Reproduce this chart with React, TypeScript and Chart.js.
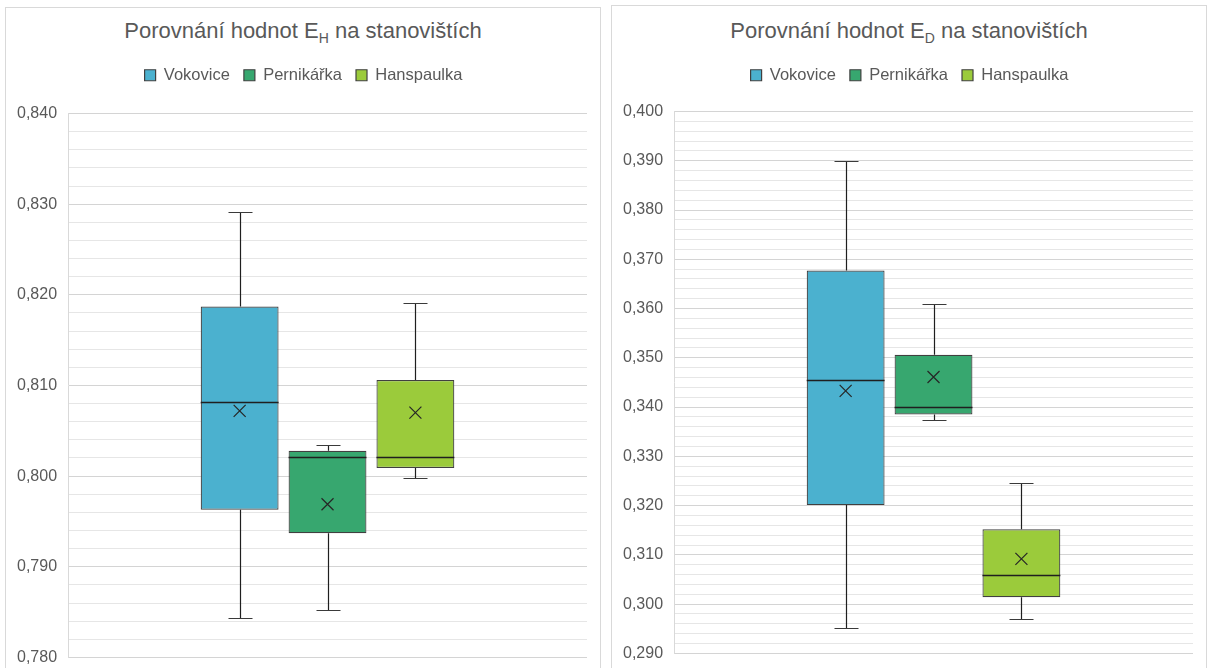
import React, { useEffect, useRef } from 'react';
import { Chart, registerables } from 'chart.js';

Chart.register(...registerables);

const FONT = '"Liberation Sans", Arial, Helvetica, sans-serif';

const categories = [''];
const seriesNames = ['Vokovice', 'Pernikářka', 'Hanspaulka'];
const seriesColors = ['#4BB1CF', '#37A76F', '#9BCB3B'];

// E_H statistics (Vokovice, Pernikářka, Hanspaulka)
const ehMin = [0.7844, 0.7852, 0.7998];
const ehQ1 = [0.7963, 0.7937, 0.8009];
const ehMedian = [0.8082, 0.8021, 0.8021];
const ehQ3 = [0.8187, 0.8028, 0.8106];
const ehMax = [0.8291, 0.8034, 0.8191];
const ehMean = [0.8072, 0.7969, 0.807];
const ehAxis = { min: 0.78, max: 0.84 };

// E_D statistics (Vokovice, Pernikářka, Hanspaulka)
const edMin = [0.2951, 0.3373, 0.2969];
const edQ1 = [0.3201, 0.3385, 0.3014];
const edMedian = [0.3454, 0.34, 0.306];
const edQ3 = [0.3677, 0.3506, 0.3152];
const edMax = [0.3899, 0.361, 0.3246];
const edMean = [0.3433, 0.3461, 0.3092];
const edAxis = { min: 0.29, max: 0.4 };

const minorStep = 0.002;
const majorStep = 0.01;

type Stats = {
  min: number[];
  q1: number[];
  median: number[];
  q3: number[];
  max: number[];
  mean: number[];
};

type Layout = { gap: number; height: number };

const isMajor = (v: number) => Math.abs(v / majorStep - Math.round(v / majorStep)) < 1e-6;

const crisp = (v: number) => Math.round(v) + 0.5;

const boxExtras = {
  id: 'boxExtras',
  afterDatasetsDraw(chart: any) {
    const ctx = chart.ctx;
    const y = chart.scales.y;
    chart.data.datasets.forEach((ds: any, i: number) => {
      const meta = chart.getDatasetMeta(i);
      const s: Stats = ds.stats;
      meta.data.forEach((bar: any, j: number) => {
        const x = crisp(bar.x);
        const w = bar.width;
        const yMin = crisp(y.getPixelForValue(s.min[j]));
        const yQ1 = y.getPixelForValue(s.q1[j]);
        const yMed = crisp(y.getPixelForValue(s.median[j]));
        const yQ3 = y.getPixelForValue(s.q3[j]);
        const yMax = crisp(y.getPixelForValue(s.max[j]));
        const yMean = y.getPixelForValue(s.mean[j]);
        ctx.save();
        ctx.strokeStyle = '#1f1f1f';
        ctx.lineWidth = 1.2;
        ctx.beginPath();
        ctx.moveTo(x, yQ3);
        ctx.lineTo(x, yMax);
        ctx.moveTo(x, yQ1);
        ctx.lineTo(x, yMin);
        ctx.stroke();
        ctx.strokeStyle = '#3a3a3a';
        ctx.beginPath();
        ctx.moveTo(x - 12, yMax);
        ctx.lineTo(x + 12, yMax);
        ctx.moveTo(x - 12, yMin);
        ctx.lineTo(x + 12, yMin);
        ctx.stroke();
        // median
        ctx.strokeStyle = '#1f1f1f';
        ctx.lineWidth = 1.5;
        ctx.beginPath();
        ctx.moveTo(bar.x - w / 2, yMed);
        ctx.lineTo(bar.x + w / 2, yMed);
        ctx.stroke();
        // mean marker
        const r = 6;
        ctx.lineWidth = 1.2;
        ctx.strokeStyle = '#262626';
        ctx.beginPath();
        ctx.moveTo(bar.x - r, yMean - r);
        ctx.lineTo(bar.x + r, yMean + r);
        ctx.moveTo(bar.x + r, yMean - r);
        ctx.lineTo(bar.x - r, yMean + r);
        ctx.stroke();
        ctx.restore();
      });
    });
  },
};

const makeLegendGap = (gap: number) => ({
  id: 'legendGap',
  beforeInit(chart: any) {
    const legend = chart.legend;
    if (!legend) return;
    const fit = legend.fit;
    legend.fit = function () {
      fit.call(this);
      this.height += gap;
    };
  },
});

function BoxChart({ stats, axis, gap }: { stats: Stats; axis: { min: number; max: number }; gap: number }) {
  const ref = useRef<HTMLCanvasElement | null>(null);
  useEffect(() => {
    if (!ref.current) return;
    const datasets = seriesNames.map((name, i) => ({
      label: name,
      data: categories.map(() => [stats.q1[i], stats.q3[i]]),
      backgroundColor: seriesColors[i],
      borderColor: '#404040',
      borderWidth: 1.2,
      borderSkipped: false,
      categoryPercentage: 0.508,
      barPercentage: 0.886,
      stats: {
        min: [stats.min[i]],
        q1: [stats.q1[i]],
        median: [stats.median[i]],
        q3: [stats.q3[i]],
        max: [stats.max[i]],
        mean: [stats.mean[i]],
      },
    }));
    const chart = new Chart(ref.current, {
      type: 'bar',
      data: { labels: categories, datasets: datasets as any },
      options: {
        animation: false,
        responsive: true,
        maintainAspectRatio: false,
        layout: { padding: { top: 8, left: 0, right: 0, bottom: 0 } },
        plugins: {
          legend: {
            position: 'top',
            labels: {
              boxWidth: 11,
              boxHeight: 11,
              padding: 14,
              color: '#595959',
              font: { family: FONT, size: 16.5 },
            },
          },
          tooltip: { enabled: false },
          title: { display: false },
        },
        scales: {
          x: { display: false },
          y: {
            min: axis.min,
            max: axis.max,
            border: { display: true, color: '#d9d9d9', width: 1 },
            grid: {
              drawTicks: false,
              color: (c: any) => (isMajor(c.tick.value) ? '#d4d4d4' : '#e6e6e6'),
              lineWidth: 1,
            },
            ticks: {
              stepSize: minorStep,
              autoSkip: false,
              padding: 11,
              color: '#595959',
              font: { family: FONT, size: 16 },
              callback: (v: any) => (isMajor(Number(v)) ? Number(v).toFixed(3).replace('.', ',') : ''),
            },
          },
          yRight: {
            position: 'right',
            display: true,
            min: axis.min,
            max: axis.max,
            border: { display: false },
            grid: { display: false, drawTicks: false },
            ticks: { display: false },
            afterFit: (scale: any) => {
              scale.width = 14;
            },
          },
        },
      },
      plugins: [boxExtras, makeLegendGap(gap)],
    });
    return () => chart.destroy();
  }, []);
  return <canvas ref={ref} />;
}

function Panel({
  left,
  top,
  width,
  sub,
  stats,
  axis,
  layout,
}: {
  left: number;
  top: number;
  width: number;
  sub: string;
  stats: Stats;
  axis: { min: number; max: number };
  layout: Layout;
}) {
  return (
    <>
      <div
        style={{
          position: 'absolute',
          left,
          top,
          width,
          height: 720,
          border: '1px solid #d9d9d9',
          boxSizing: 'border-box',
          background: '#fff',
        }}
      />
      <div
        style={{
          position: 'absolute',
          left,
          top: 20,
          width,
          textAlign: 'center',
          fontSize: 22,
          lineHeight: '22px',
          color: '#595959',
          fontFamily: FONT,
          whiteSpace: 'nowrap',
        }}
      >
        Porovnání hodnot E
        <span style={{ fontSize: 14, position: 'relative', top: 5 }}>{sub}</span> na stanovištích
      </div>
      <div style={{ position: 'absolute', left: left + 1, top: 45, width: width - 1, height: layout.height }}>
        <BoxChart stats={stats} axis={axis} gap={layout.gap} />
      </div>
    </>
  );
}

export default function App() {
  const eh: Stats = { min: ehMin, q1: ehQ1, median: ehMedian, q3: ehQ3, max: ehMax, mean: ehMean };
  const ed: Stats = { min: edMin, q1: edQ1, median: edMedian, q3: edQ3, max: edMax, mean: edMean };
  return (
    <div
      style={{
        position: 'fixed',
        left: 0,
        top: 0,
        width: 1210,
        height: 668,
        background: '#fff',
        overflow: 'hidden',
      }}
    >
      <Panel left={5} top={7} width={596} sub="H" stats={eh} axis={ehAxis} layout={{ gap: 20, height: 633 }} />
      <Panel left={611} top={5} width={596} sub="D" stats={ed} axis={edAxis} layout={{ gap: 18, height: 629 }} />
    </div>
  );
}
